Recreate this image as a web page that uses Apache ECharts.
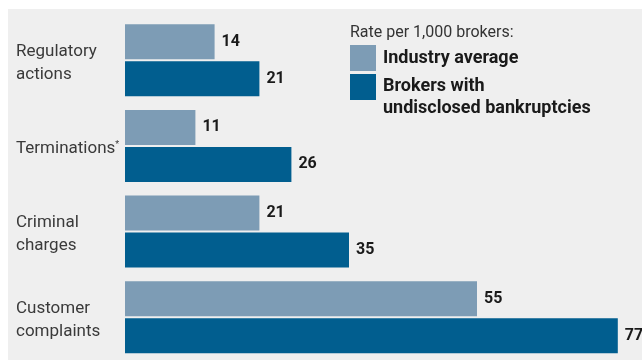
<!DOCTYPE html>
<html>
<head>
<meta charset="utf-8">
<script src="https://cdn.jsdelivr.net/npm/echarts@6/dist/echarts.min.js"></script>
<style>
  html, body { margin: 0; padding: 0; background: #ffffff; width: 642px; height: 360px; overflow: hidden; }
  #chart { position: absolute; left: 8px; top: 9px; width: 634px; height: 351px; background: #efefef; }
</style>
</head>
<body>
<div id="chart"></div>
<script>
const categories = ['Regulatory\nactions', 'Terminations', 'Criminal\ncharges', 'Customer\ncomplaints'];
const seriesNames = ['Industry average', 'Brokers with\nundisclosed bankruptcies'];
const industryAverage = [14, 11, 21, 55];
const undisclosedBankruptcies = [21, 26, 35, 77];
const legendTitle = 'Rate per 1,000 brokers:';

const FONT = 'Roboto';
const chart = echarts.init(document.getElementById('chart'), null, { renderer: 'canvas' });

const labelStyle = {
  show: true,
  position: 'right',
  distance: 7,
  fontFamily: FONT,
  fontSize: 16,
  fontWeight: 'bold',
  color: '#1a1a1a'
};

chart.setOption({
  backgroundColor: '#efefef',
  animation: false,
  title: {
    text: legendTitle,
    left: 342,
    top: 14,
    padding: 0,
    textStyle: { fontFamily: FONT, fontSize: 16, fontWeight: 'normal', color: '#333333', lineHeight: 20 }
  },
  legend: {
    orient: 'vertical',
    left: 342,
    top: 36,
    padding: 0,
    itemWidth: 26,
    itemHeight: 26,
    itemGap: -16,
    selectedMode: false,
    icon: 'rect',
    formatter: function (name) {
      const lines = name.split('\n');
      if (lines.length === 1) return '{a|' + name + '}';
      return '{e|.}\n' + lines.map(function (l) { return '{a|' + l + '}'; }).join('\n');
    },
    textStyle: {
      fontFamily: FONT, fontSize: 18, fontWeight: 'bold', color: '#1a1a1a', padding: [0, 0, 0, 2],
      rich: {
        a: { fontFamily: FONT, fontSize: 18, fontWeight: 'bold', color: '#1a1a1a', lineHeight: 22, height: 22 },
        e: { fontFamily: FONT, fontSize: 12, lineHeight: 20, height: 20, color: 'rgba(0,0,0,0)' }
      }
    },
    data: seriesNames
  },
  grid: { left: 117, top: 8.5, width: 512, height: 348, containLabel: false },
  xAxis: {
    type: 'value',
    min: 0,
    max: 80,
    show: false
  },
  yAxis: {
    type: 'category',
    data: categories,
    inverse: true,
    axisLine: { show: false },
    axisTick: { show: false },
    splitLine: { show: false },
    axisLabel: {
      align: 'left',
      margin: 109,
      fontFamily: FONT,
      fontSize: 17,
      lineHeight: 23,
      color: '#3a3a3a',
      padding: [6, 0, 0, 0],
      formatter: function (v) {
        if (v === 'Terminations') return '{a|Terminations}{s|*}';
        return v;
      },
      rich: {
        a: { fontFamily: FONT, fontSize: 17, color: '#3a3a3a' },
        s: { fontFamily: FONT, fontSize: 9, color: '#3a3a3a', padding: [0, 0, 9, 0] }
      }
    }
  },
  series: [
    {
      name: seriesNames[0],
      type: 'bar',
      data: industryAverage,
      barWidth: 35,
      barGap: '6%',
      itemStyle: { color: '#7d9cb5' },
      label: labelStyle
    },
    {
      name: seriesNames[1],
      type: 'bar',
      data: undisclosedBankruptcies,
      barWidth: 35,
      barGap: '6%',
      itemStyle: { color: '#015e8f' },
      label: labelStyle
    }
  ]
});
</script>
</body>
</html>
